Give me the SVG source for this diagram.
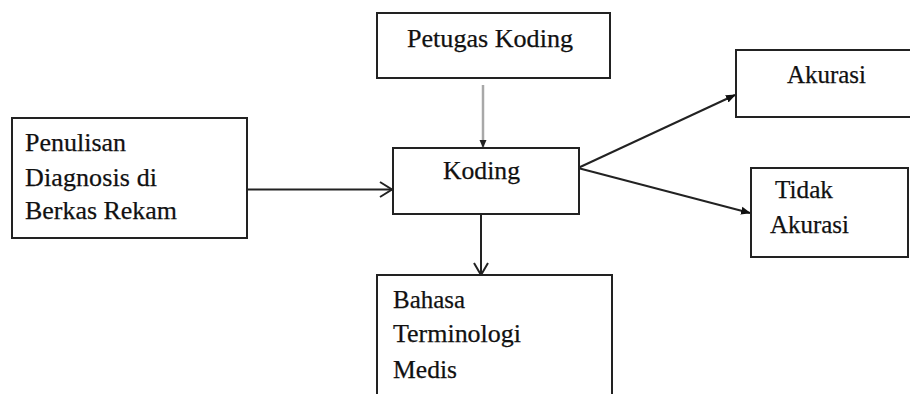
<svg xmlns="http://www.w3.org/2000/svg" width="910" height="394" viewBox="0 0 910 394">
<style>
.box{fill:#fff;stroke:#222;stroke-width:2}
.t{font-family:"Liberation Serif","Times New Roman",serif;font-size:26px;fill:#111;stroke:#111;stroke-width:0.25}
.ln{stroke:#222;stroke-width:2;fill:none}
</style>
<defs>
<marker id="solid" markerWidth="10" markerHeight="10" refX="9" refY="5" orient="auto" markerUnits="userSpaceOnUse" viewBox="0 0 10 10">
<path d="M0,1 L10,5 L0,9 Z" fill="#111"/>
</marker>
<marker id="small" markerWidth="8" markerHeight="8" refX="7" refY="4" orient="auto" markerUnits="userSpaceOnUse" viewBox="0 0 8 8">
<path d="M0,0.5 L8,4 L0,7.5 Z" fill="#222"/>
</marker>
</defs>
<rect width="910" height="394" fill="#fff"/>
<g id="connectors">
<line x1="483" y1="85" x2="483" y2="147" stroke="#a8a8a8" stroke-width="2.5" marker-end="url(#small)"/>
<line class="ln" x1="247" y1="189.5" x2="392" y2="189.5"/>
<path class="ln" d="M380,182 L392,189.5 L380,197"/>
<line class="ln" x1="481" y1="214" x2="481" y2="275"/>
<path class="ln" d="M474,263 L481,275 L488,263"/>
<line class="ln" x1="578" y1="168" x2="735" y2="95" marker-end="url(#solid)"/>
<line class="ln" x1="578" y1="168" x2="750" y2="213" marker-end="url(#solid)"/>
</g>
<g id="petugas">
<rect class="box" x="377" y="13" width="233" height="65"/>
<text class="t" x="407" y="47" textLength="166" lengthAdjust="spacingAndGlyphs">Petugas Koding</text>
</g>
<g id="penulisan">
<rect class="box" x="12" y="118" width="235" height="120"/>
<text class="t" x="25" y="151" textLength="101" lengthAdjust="spacingAndGlyphs">Penulisan</text>
<text class="t" x="25" y="186" textLength="132">Diagnosis di</text>
<text class="t" x="25" y="219" textLength="152" lengthAdjust="spacingAndGlyphs">Berkas Rekam</text>
</g>
<g id="koding">
<rect class="box" x="393" y="148" width="186" height="66"/>
<text class="t" x="443" y="179" textLength="77" lengthAdjust="spacingAndGlyphs">Koding</text>
</g>
<g id="bahasa">
<rect class="box" x="377" y="275" width="235" height="130"/>
<text class="t" x="393" y="308" textLength="72" lengthAdjust="spacingAndGlyphs">Bahasa</text>
<text class="t" x="393" y="342" textLength="128" lengthAdjust="spacingAndGlyphs">Terminologi</text>
<text class="t" x="393" y="378" textLength="64" lengthAdjust="spacingAndGlyphs">Medis</text>
</g>
<g id="akurasi">
<rect class="box" x="736" y="50" width="185" height="67"/>
<text class="t" x="787" y="83" textLength="79" lengthAdjust="spacingAndGlyphs">Akurasi</text>
</g>
<g id="tidak">
<rect class="box" x="751" y="168" width="157" height="89"/>
<text class="t" x="775" y="198" textLength="58" lengthAdjust="spacingAndGlyphs">Tidak</text>
<text class="t" x="770" y="233" textLength="79" lengthAdjust="spacingAndGlyphs">Akurasi</text>
</g>
</svg>
